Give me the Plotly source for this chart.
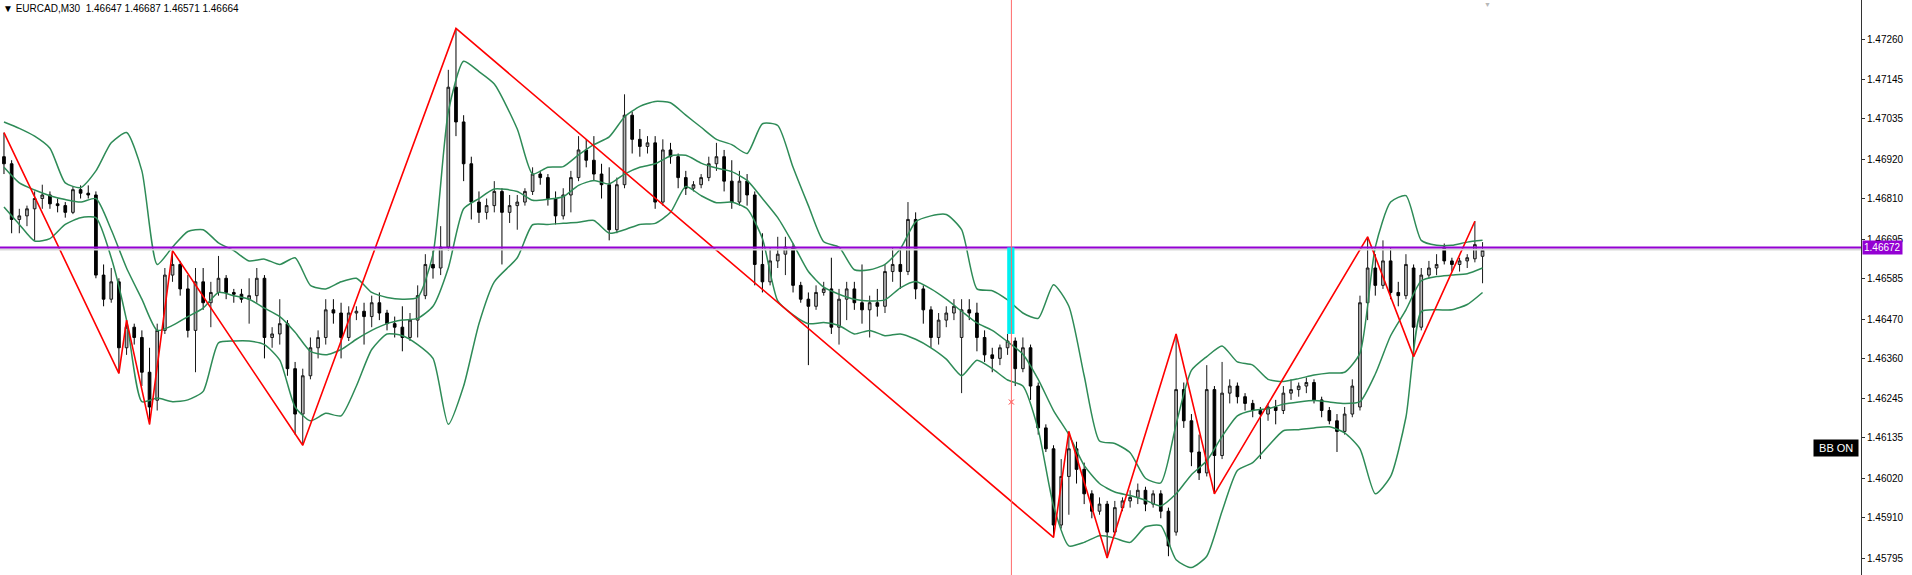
import plotly.graph_objects as go

# prices are kept in points (0.00001) above BASE
BASE = 1.46000

symbol_title = "EURCAD,M30  1.46647 1.46687 1.46571 1.46664"

open_pts = [
    928, 908, 751, 761, 781, 810, 820, 795, 790, 771,
    835, 825, 820, 594, 526, 575, 389, 447, 418, 320,
    241, 438, 594, 624, 555, 438, 575, 516, 545, 585,
    545, 540, 526, 536, 585, 418, 428, 457, 330, 202,
    310, 389, 418, 496, 487, 418, 487, 492, 477, 516,
    487, 457, 447, 418, 467, 536, 624, 614, 673, 1124,
    1026, 908, 800, 771, 790, 830,
    771, 790, 800, 830, 879, 869, 810, 761, 820, 869,
    947, 918, 879, 849, 722, 849, 1045, 977, 957, 967,
    800, 947, 928, 869, 839, 849, 869, 908, 928, 859,
    800, 859, 820, 624, 575, 634, 653, 673, 565, 526,
    506, 545, 555, 447, 526, 555, 516, 496, 516, 506,
    604, 624, 604, 751, 555, 496, 418, 467, 487, 418,
    496, 487, 418,
    369, 359, 389, 408, 330, 389, 281, 163, 104, -111,
    26, 104, 46, -23, -72, -52, -131, -62, -43, -33,
    -13, -52, -23, -72, -131, 271, 183, 95, 36, 271,
    85, 261, 281, 251, 232, 212, 202, 222, 212, 261,
    271, 281, 291, 242, 212, 183, 153, 202, 222, 516,
    614, 565, 634, 545, 536, 614, 447, 594, 614, 673,
    634, 624, 634, 640, 647,
]
high_pts = [
    996, 918, 781, 790, 830, 849, 830, 810, 800, 844,
    847, 847, 830, 624, 614, 585, 467, 457, 438, 389,
    457, 614, 663, 634, 594, 614, 614, 575, 648, 594,
    555, 555, 585, 614, 594, 447, 526, 467, 349, 330,
    418, 438, 526, 526, 516, 506, 506, 516, 536, 545,
    496, 477, 506, 487, 565, 653, 663, 732, 1173, 1290,
    1045, 928, 830, 810, 859, 839,
    820, 820, 839, 898, 888, 879, 830, 839, 888, 986,
    977, 986, 908, 898, 869, 1104, 1055, 1006, 986, 986,
    977, 967, 937, 888, 859, 879, 928, 967, 947, 918,
    888, 879, 830, 712, 673, 702, 702, 683, 575, 545,
    565, 575, 643, 555, 575, 575, 624, 536, 555, 624,
    673, 673, 800, 771, 565, 506, 487, 506, 526, 526,
    526, 516, 438,
    389, 398, 428, 418, 418, 398, 291, 173, 114, 75,
    153, 124, 65, -13, -33, -43, -43, -33, -13, 6,
    -3, -13, -13, -62, 428, 291, 202, 144, 340, 281,
    349, 300, 291, 261, 242, 222, 232, 242, 281, 300,
    291, 305, 300, 251, 222, 202, 222, 300, 536, 702,
    653, 692, 673, 575, 653, 624, 614, 634, 653, 683,
    643, 643, 653, 746, 687,
]
low_pts = [
    879, 712, 712, 732, 692, 781, 781, 771, 756, 766,
    810, 810, 585, 506, 516, 317, 369, 398, 281, 173,
    212, 428, 575, 536, 418, 320, 496, 447, 536, 526,
    516, 516, 457, 516, 359, 389, 398, 310, 144, 114,
    300, 359, 398, 457, 359, 408, 467, 398, 447, 467,
    438, 418, 379, 408, 418, 526, 584, 594, 663, 986,
    859, 751, 741, 751, 771, 624,
    741, 722, 790, 820, 849, 790, 737, 751, 771, 859,
    898, 859, 810, 692, 712, 839, 937, 928, 937, 781,
    790, 908, 839, 820, 830, 839, 859, 888, 830, 781,
    790, 790, 565, 545, 565, 614, 594, 545, 516, 340,
    496, 536, 428, 398, 467, 496, 457, 418, 477, 487,
    575, 555, 594, 526, 457, 389, 398, 447, 467, 261,
    467, 379, 349,
    320, 340, 369, 281, 320, 242, 144, 95, -146, -121,
    -82, 6, -52, -92, -82, -204, -141, -72, -62, -52,
    -72, -62, -92, -199, -141, 163, 55, 16, 26, -23,
    75, 232, 232, 212, 193, 75, 183, 173, 202, 242,
    251, 261, 232, 193, 173, 95, 144, 193, 212, 467,
    536, 555, 526, 506, 526, 364, 438, 585, 594, 624,
    604, 604, 614, 630, 571,
]
close_pts = [
    908, 751, 761, 781, 810, 820, 795, 790, 771, 835,
    825, 820, 594, 526, 575, 389, 447, 418, 320, 222,
    438, 594, 624, 555, 438, 575, 516, 545, 585, 545,
    540, 526, 536, 585, 418, 428, 457, 330, 202, 310,
    389, 418, 496, 487, 418, 487, 492, 477, 516, 487,
    457, 447, 418, 467, 536, 624, 614, 673, 1124, 1026,
    908, 800, 771, 790, 830, 771,
    790, 800, 830, 879, 869, 810, 761, 820, 869, 947,
    918, 879, 849, 722, 849, 1045, 977, 957, 967, 800,
    947, 928, 869, 839, 849, 869, 908, 928, 859, 800,
    859, 820, 624, 575, 634, 653, 673, 565, 526, 506,
    545, 555, 447, 526, 555, 516, 496, 516, 506, 604,
    624, 604, 751, 555, 496, 418, 467, 487, 506, 496,
    487, 418, 369,
    359, 389, 408, 330, 389, 281, 163, 104, -111, 26,
    104, 46, -23, -72, -52, -131, -62, -43, -33, -13,
    -52, -23, -72, -170, 271, 183, 95, 36, 271, 85,
    261, 281, 251, 232, 212, 202, 222, 212, 261, 271,
    281, 291, 242, 212, 183, 153, 202, 281, 516, 614,
    565, 634, 545, 536, 624, 447, 594, 614, 624, 634,
    624, 634, 643, 680, 664,
]

# Bollinger bands, sampled along the bar index
band_bar = list(range(0, 65, 2)) + list(range(67, 130, 2)) + list(range(131, 194, 2))
bb_upper_pts = [
    1026, 1008, 986, 952, 854, 841, 888, 967, 996, 888, 624, 673, 717, 722, 685, 663,
    634, 639, 624, 643, 565, 555, 575, 585, 545, 531, 526, 531, 653, 1055, 1197, 1168, 1133,
    1006, 879, 898, 900, 933, 962, 984, 1040, 1070, 1084, 1080, 1045, 1011, 977, 962, 937,
    1021, 1016, 898, 790, 688, 673, 609, 609, 624, 668, 744, 761, 765, 722, 555, 550,
    524, 487, 472, 567, 506, 310, 126, 119, 93, 21, 8, 173, 325, 364, 394, 349,
    340, 300, 294, 302, 312, 318, 320, 374, 673, 800, 818, 692, 678, 678, 687, 692,
]
bb_mid_pts = [
    898, 854, 834, 818, 807, 800, 810, 722, 614, 526, 438, 452, 477, 501, 545, 536,
    526, 501, 477, 433, 379, 369, 384, 413, 438, 457, 467, 472, 506, 614, 781, 810, 837,
    830, 805, 808, 815, 847, 861, 851, 879, 898, 908, 930, 932, 910, 896, 886, 861,
    810, 756, 683, 604, 560, 540, 526, 521, 524, 558, 576, 555, 526, 492, 459, 438,
    406, 371, 300, 212, 144, 57, 6, -18, -28, -41, -57, -23, 31, 70, 139, 197,
    212, 217, 230, 236, 240, 236, 232, 237, 315, 423, 496, 578, 590, 594, 598, 614,
]
bb_lower_pts = [
    786, 737, 690, 697, 737, 756, 756, 643, 467, 237, 247, 237, 242, 266, 403, 408,
    408, 398, 354, 222, 183, 204, 197, 281, 384, 428, 423, 398, 359, 173, 281, 457, 575,
    643, 736, 737, 740, 743, 748, 712, 722, 737, 740, 771, 844, 818, 798, 800, 781,
    697, 521, 482, 457, 460, 452, 428, 438, 423, 428, 413, 389, 357, 310, 354, 330,
    298, 281, 158, -57, -170, -160, -141, -148, -160, -116, -113, -209, -231, -199, -72, 43,
    65, 111, 155, 158, 163, 166, 149, 104, -23, 26, 193, 491, 496, 496, 511, 545,
]

# ZigZag pivots
zz_bar = [0, 15, 16, 19, 22, 39, 59, 137, 139, 144, 153, 158, 178, 184, 192]
zz_pts = [996, 317, 467, 173, 663, 114, 1290, -146, 153, -204, 428, -23, 702, 364, 746]

level_price = 1.46672
signal_bar = 131.5
signal_top = 1.46672
signal_bottom = 1.46428
signal_mark = 1.46236
bb_label_price = 1.46107

tick_vals = [1.47260, 1.47145, 1.47035, 1.46920, 1.46810, 1.46695, 1.46585,
             1.46470, 1.46360, 1.46245, 1.46135, 1.46020, 1.45910, 1.45795]


def to_price(pts):
    return [BASE + p / 1e5 for p in pts]


bars = list(range(len(close_pts)))

fig = go.Figure()

fig.add_trace(go.Candlestick(
    x=bars,
    open=to_price(open_pts), high=to_price(high_pts),
    low=to_price(low_pts), close=to_price(close_pts),
    increasing=dict(line=dict(color="#1a1a1a", width=1), fillcolor="#b8b8b8"),
    decreasing=dict(line=dict(color="#000000", width=1), fillcolor="#000000"),
    whiskerwidth=0, showlegend=False, hoverinfo="skip",
))

for band in (bb_upper_pts, bb_mid_pts, bb_lower_pts):
    fig.add_scatter(
        x=band_bar, y=to_price(band), mode="lines",
        line=dict(color="#2E8B57", width=1.5, shape="spline", smoothing=0.6),
        showlegend=False, hoverinfo="skip",
    )

fig.add_scatter(
    x=zz_bar, y=to_price(zz_pts), mode="lines",
    line=dict(color="#FF0000", width=1.6),
    showlegend=False, hoverinfo="skip",
)

fig.add_scatter(
    x=[signal_bar], y=[signal_mark], mode="markers",
    marker=dict(symbol="x-thin", size=5, line=dict(color="#FF3030", width=1)),
    showlegend=False, hoverinfo="skip",
)

# level line + signal bar + vertical marker
fig.add_hline(y=level_price - 0.00006, line_color="#D8D8D8", line_width=2)
fig.add_hline(y=level_price, line_color="#9400D3", line_width=2)
fig.add_shape(type="rect", x0=signal_bar - 0.55, x1=signal_bar + 0.4,
              y0=signal_bottom, y1=signal_top,
              fillcolor="#00F0F0", line_width=0)
fig.add_vline(x=signal_bar, line_color="#FF6A6A", line_width=1)

fig.add_annotation(
    x=0, y=1, xref="paper", yref="paper", xanchor="left", yanchor="top",
    text="\u25BC " + symbol_title, showarrow=False, xshift=1, yshift=-1,
    font=dict(family="Liberation Sans", size=10, color="#000000"),
)
fig.add_annotation(
    x=1, y=level_price, xref="paper", yref="y", xanchor="left", yanchor="middle",
    text=f"{level_price:.5f}", showarrow=False, xshift=1,
    bgcolor="#9400D3", borderpad=1,
    font=dict(family="Liberation Sans", size=10, color="#ffffff"),
)
fig.add_annotation(
    x=1, y=bb_label_price, xref="paper", yref="y", xanchor="right", yanchor="middle",
    text="&nbsp;BB ON&nbsp;", showarrow=False, xshift=-2,
    bgcolor="#000000", borderpad=2,
    font=dict(family="Liberation Sans", size=11, color="#ffffff"),
)
fig.add_annotation(
    x=193.6, y=1, xref="x", yref="paper", yanchor="top",
    text="\u25BC", showarrow=False, yshift=2,
    font=dict(size=7, color="#B8B8B8"),
)

fig.update_layout(
    width=1912, height=575, autosize=False,
    margin=dict(l=0, r=51, t=0, b=0),
    plot_bgcolor="#ffffff", paper_bgcolor="#ffffff",
    boxgap=0.5,
    xaxis=dict(range=[-0.52, 242.4], showgrid=False, zeroline=False,
               showticklabels=False, rangeslider=dict(visible=False)),
    yaxis=dict(range=[1.45748, 1.47370], side="right", showgrid=False, zeroline=False,
               tickvals=tick_vals, ticktext=[f"{v:.5f}" for v in tick_vals],
               ticks="outside", ticklen=3, tickcolor="#333333",
               showline=True, linecolor="#333333", linewidth=1,
               tickfont=dict(family="Liberation Sans", size=10, color="#000000")),
)

fig.write_html("out.html", config={"displayModeBar": False},
               post_script="document.body.style.margin='0';")
